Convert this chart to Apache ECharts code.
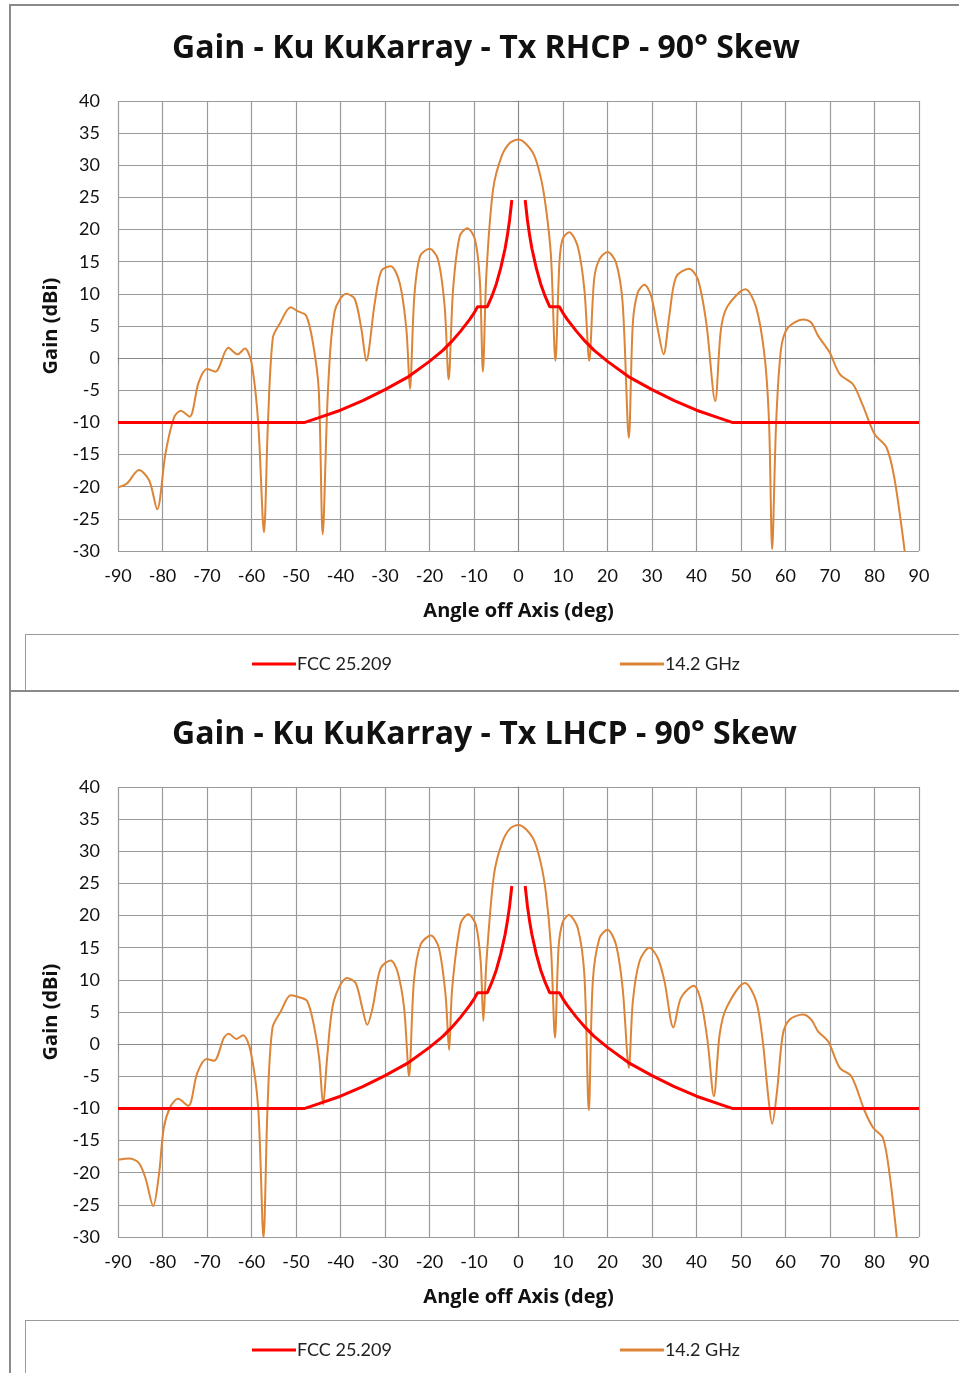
<!DOCTYPE html>
<html>
<head>
    <meta charset="utf-8">
    <title>Gain - Ku KuKarray - Tx 90° Skew</title>
    <script src="https://cdn.jsdelivr.net/npm/echarts@6/dist/echarts.min.js"></script>
    <style>
        body { margin: 0; background: #fff; }
        .frame { position: absolute; border: 2px solid #8a8a8a; box-sizing: border-box; }
        .legbox { position: absolute; border: 1px solid #9a9a9a; box-sizing: border-box; }
        .chart { position: absolute; left: 0; width: 959px; }
    </style>
</head>
<body>
    <div class="frame" style="left:9px;top:4px;width:980px;height:688px;"></div>
    <div class="legbox" style="left:25px;top:634px;width:960px;height:57px;"></div>
    <div class="frame" style="left:9px;top:690px;width:980px;height:720px;"></div>
    <div class="legbox" style="left:25px;top:1320px;width:960px;height:80px;"></div>
    <div id="top" class="chart" style="top:0;height:690px;"></div>
    <div id="bottom" class="chart" style="top:690px;height:683px;"></div>
    <script>
        // FCC 25.209 mask (two branches, gap around boresight)
        var fccLeftAngles = [-90, -48, -45, -40, -35, -30, -25, -20, -17, -15, -13, -11, -10, -9.2, -7, -6, -5, -4, -3, -2.5, -2, -1.5];
        var fccLeftGain   = [-10, -10, -9.3, -8.1, -6.6, -4.9, -3.0, -0.5, 1.2, 2.6, 4.2, 6.0, 7.0, 8.0, 8.0, 9.6, 11.5, 14.0, 17.1, 19.1, 21.5, 24.6];
        var fccRightAngles = [1.5, 2, 2.5, 3, 4, 5, 6, 7, 9.2, 10, 11, 13, 15, 17, 20, 25, 30, 35, 40, 45, 48, 90];
        var fccRightGain   = [24.6, 21.5, 19.1, 17.1, 14.0, 11.5, 9.6, 8.0, 8.0, 7.0, 6.0, 4.2, 2.6, 1.2, -0.5, -3.0, -4.9, -6.6, -8.1, -9.3, -10, -10];

        // 14.2 GHz, RHCP
        var rhcpAngles = [-90, -88, -85.3, -83, -81.2, -79.3, -77.4, -75.9, -73.9, -71.9, -70, -68.1, -65.2, -63.1, -61.5, -60, -58.5, -57.2, -56.3, -55.2, -53.7, -51.2, -49.6, -47.7, -46.2, -44.9, -44, -42.8, -41.3, -38.7, -36.8, -35.3, -34.2, -32.3, -30.8, -28.7, -26.7, -25.2, -24.4, -23.4, -22.1, -20, -18.1, -16.6, -15.7, -14.7, -13.2, -11.5, -9.8, -8.7, -8, -7.2, -5.7, -3.8, -1.9, 0,
                          3.2, 5, 6.2, 7.3, 8.3, 9.2, 9.9, 11.4, 13.3, 14.8, 15.9, 17, 18.2, 20, 21.9, 23.4, 24.8, 25.7, 26.8, 28.3, 29.8, 31.3, 32.6, 33.9, 35.4, 38.3, 40.3, 42.2, 44.2, 45.5, 47, 51, 53.4, 55.3, 56.3, 57, 57.9, 59, 60.5, 63.9, 65.8, 67.3, 69.9, 72.2, 75.2, 77.4, 80, 82.7, 84.5, 86.8];
        var rhcpGain   = [-20.1, -19.5, -17.4, -19.0, -23.5, -14.7, -9.2, -8.2, -9.1, -3.8, -1.7, -2.1, 1.6, 0.6, 1.5, -0.7, -10, -27.1, -10, 3.2, 5.3, 7.9, 7.3, 6.6, 2.4, -4.8, -27.4, -4.8, 7.3, 10.0, 9.2, 4.5, -0.4, 8.6, 13.6, 14.3, 11.7, 4.5, -4.8, 9.7, 15.9, 17.0, 15.4, 8.1, -3.3, 10.7, 19.0, 20.2, 18.5, 12.3, -2.1, 13.3, 26.3, 31.4, 33.5, 34.0,
                          32.0, 28.1, 23.2, 15.9, -0.4, 14.9, 18.5, 19.6, 17.4, 10.7, -0.4, 12.3, 15.4, 16.5, 14.9, 8.6, -12.4, 5.5, 10.2, 11.4, 9.7, 4.5, 0.6, 6.6, 12.6, 13.9, 12.3, 5.5, -6.7, 4.5, 8.1, 10.7, 7.9, 0.3, -10, -29.7, -10, 1.4, 4.7, 6.0, 5.5, 3.5, 0.9, -2.5, -4.1, -7.4, -11.8, -13.9, -18.8, -30.1];

        // 14.2 GHz, LHCP
        var lhcpAngles = [-90, -87.5, -85.3, -83.8, -82.1, -80.8, -79.7, -78.2, -76.5, -74.2, -72.2, -70.1, -68.4, -66.2, -65.1, -63.4, -61.9, -60.2, -58.5, -57.3, -56.4, -55.3, -53.4, -51.2, -49.3, -47.5, -46, -44.8, -43.9, -43, -41.5, -38.5, -36.6, -35.1, -34, -32.8, -31, -28.7, -27.2, -25.7, -24.6, -23.5, -22, -19.7, -17.9, -16.4, -15.6, -14.9, -13, -11.3, -9.6, -8.5, -7.9, -7.2, -5.5, -3.6, -1.8, 0,
                          3.2, 5, 6.2, 7.3, 8.2, 9, 9.9, 11.3, 13.3, 14.8, 15.8, 16.7, 18.2, 20, 21.9, 23.4, 24.8, 25.7, 27.2, 29.4, 31.3, 32.8, 34.8, 36.5, 39.4, 41, 42.5, 43.9, 45.2, 46.7, 50.9, 53.4, 54.9, 56, 57, 58.1, 59.4, 60.9, 63.9, 65.8, 67.3, 69.6, 72.2, 74.8, 77.8, 79.7, 81.9, 83.4, 85];
        var lhcpGain   = [-18.0, -17.8, -18.5, -20.9, -25.2, -20.3, -13.0, -9.7, -8.5, -9.6, -4.5, -2.3, -2.6, 1.0, 1.6, 0.8, 1.4, -1.1, -9.9, -30.1, -9.9, 2.5, 5.1, 7.6, 7.3, 6.7, 3.0, -2.1, -9.4, -2.1, 6.7, 10.3, 9.5, 5.6, 3.0, 5.6, 11.8, 13.0, 11.3, 5.6, -5.0, 9.8, 15.5, 16.9, 15.0, 7.7, -0.9, 8.7, 18.8, 20.2, 18.6, 12.9, 3.6, 12.9, 26.4, 31.5, 33.6, 34.1,
                          32.1, 28.2, 23.3, 15.0, 1.0, 15.0, 18.9, 20.1, 18.1, 10.8, -10.3, 9.8, 16.5, 17.8, 15.5, 8.7, -3.7, 6.7, 12.9, 15.0, 13.4, 9.8, 2.6, 7.2, 9.1, 6.7, 0.4, -8.1, 1.5, 5.6, 9.5, 6.7, 0.4, -7.3, -12.4, -7.3, 1.5, 3.8, 4.6, 3.8, 2.0, 0.4, -3.7, -5.0, -10.4, -13.0, -14.6, -20.3, -30.0];

        var xTicks = [-90, -80, -70, -60, -50, -40, -30, -20, -10, 0, 10, 20, 30, 40, 50, 60, 70, 80, 90];
        var yTicks = [-30, -25, -20, -15, -10, -5, 0, 5, 10, 15, 20, 25, 30, 35, 40];

        function pairs(xs, ys) {
            return xs.map(function (x, i) { return [x, ys[i]]; });
        }

        var FONT = 'Lato';
        var HEAD = 'Open Sans';

        function makeOption(titleText, titleTop, gridTop, legendTop, angles, gain) {
            return {
                animation: false,
                textStyle: { fontFamily: FONT },
                title: {
                    text: titleText,
                    left: 167,
                    top: titleTop,
                    textStyle: { fontFamily: HEAD, fontSize: 32, fontWeight: 'bold', color: '#111' }
                },
                legend: {
                    left: 247,
                    top: legendTop,
                    itemWidth: 44,
                    itemHeight: 3,
                    itemGap: 228,
                    textStyle: { fontFamily: FONT, fontSize: 18, color: '#222', padding: [0, 0, 0, -4] },
                    data: [
                        { name: 'FCC 25.209', icon: 'rect' },
                        { name: '14.2 GHz', icon: 'rect' }
                    ]
                },
                grid: { left: 118, top: gridTop, width: 801, height: 450 },
                xAxis: {
                    type: 'value',
                    min: xTicks[0],
                    max: xTicks[xTicks.length - 1],
                    interval: 10,
                    name: 'Angle off Axis (deg)',
                    nameLocation: 'middle',
                    nameGap: 50,
                    nameTextStyle: { fontFamily: HEAD, fontSize: 20, fontWeight: 'bold', color: '#111' },
                    axisLine: { lineStyle: { color: '#8a8a8a' } },
                    axisTick: { length: 5, lineStyle: { color: '#8a8a8a' } },
                    axisLabel: { margin: 16, fontSize: 18, color: '#111', fontFamily: FONT },
                    splitLine: { show: true, lineStyle: { color: '#9a9a9a', width: 1.2 } }
                },
                yAxis: {
                    type: 'value',
                    min: yTicks[0],
                    max: yTicks[yTicks.length - 1],
                    interval: 5,
                    name: 'Gain (dBi)',
                    nameLocation: 'middle',
                    nameGap: 56,
                    nameTextStyle: { fontFamily: HEAD, fontSize: 20, fontWeight: 'bold', color: '#111' },
                    axisLine: { show: true, lineStyle: { color: '#8a8a8a' } },
                    axisTick: { show: true, length: 5, lineStyle: { color: '#8a8a8a' } },
                    axisLabel: { margin: 18, fontSize: 18, color: '#111', fontFamily: FONT },
                    splitLine: { show: true, lineStyle: { color: '#9a9a9a', width: 1.2 } }
                },
                series: [
                    {
                        name: 'FCC 25.209', type: 'line', symbol: 'none', z: 3,
                        color: '#ff0000', lineStyle: { width: 3, color: '#ff0000' },
                        data: pairs(fccLeftAngles, fccLeftGain)
                    },
                    {
                        name: 'FCC 25.209', type: 'line', symbol: 'none', z: 3,
                        color: '#ff0000', lineStyle: { width: 3, color: '#ff0000' },
                        data: pairs(fccRightAngles, fccRightGain)
                    },
                    {
                        name: '14.2 GHz', type: 'line', symbol: 'none', z: 2,
                        smooth: 0.3,
                        color: '#dc8538', lineStyle: { width: 2, color: '#dc8538' },
                        data: pairs(angles, gain)
                    }
                ]
            };
        }

        var topChart = echarts.init(document.getElementById('top'));
        topChart.setOption(makeOption('Gain - Ku KuKarray - Tx RHCP - 90° Skew', 28, 101, 650, rhcpAngles, rhcpGain));

        var bottomChart = echarts.init(document.getElementById('bottom'));
        bottomChart.setOption(makeOption('Gain - Ku KuKarray - Tx LHCP - 90° Skew', 24, 97, 646, lhcpAngles, lhcpGain));
    </script>
</body>
</html>
